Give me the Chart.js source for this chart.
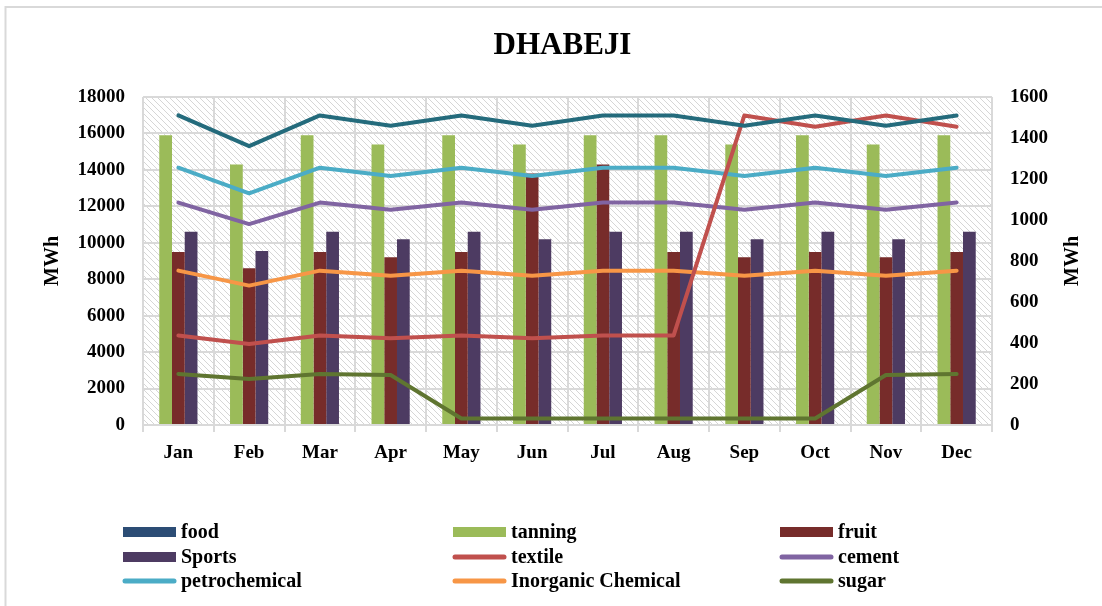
<!DOCTYPE html>
<html>
<head>
<meta charset="utf-8">
<title>DHABEJI</title>
<script src="https://cdn.jsdelivr.net/npm/chart.js@4"></script>
<style>
  body { margin: 0; background: #fff; }
  #wrap { width: 1102px; height: 606px; position: relative; }
</style>
</head>
<body>
<div id="wrap"><canvas id="dhabejiChart"></canvas></div>
<script>
// monthly consumption, MWh
const months = ['Jan', 'Feb', 'Mar', 'Apr', 'May', 'Jun', 'Jul', 'Aug', 'Sep', 'Oct', 'Nov', 'Dec'];

// bars, left axis
const tanning = [15900, 14300, 15900, 15400, 15900, 15400, 15900, 15900, 15400, 15900, 15400, 15900];
const fruit = [9500, 8600, 9500, 9200, 9500, 13800, 14300, 9500, 9200, 9500, 9200, 9500];
const sports = [10600, 9550, 10600, 10200, 10600, 10200, 10600, 10600, 10200, 10600, 10200, 10600];

// lines, right axis
const food = [1510, 1360, 1510, 1460, 1510, 1460, 1510, 1510, 1460, 1510, 1460, 1510];
const textile = [437, 395, 437, 423, 437, 423, 437, 437, 1510, 1455, 1510, 1455];
const cement = [1085, 980, 1085, 1050, 1085, 1050, 1085, 1085, 1050, 1085, 1050, 1085];
const petrochemical = [1255, 1130, 1255, 1215, 1255, 1215, 1255, 1255, 1215, 1255, 1215, 1255];
const inorganic = [753, 680, 753, 728, 753, 728, 753, 753, 728, 753, 728, 753];
const sugar = [249, 224, 249, 244, 32, 32, 32, 32, 32, 32, 244, 249];

const leftTicks = { min: 0, max: 18000, step: 2000 };
const rightTicks = { min: 0, max: 1600, step: 200 };

const serif = 'Liberation Serif, Times New Roman, serif';
const tickFont = { family: serif, size: 19, weight: 'bold' };

function barSet(label, data, color) {
    return { type: 'bar', label: label, data: data, backgroundColor: color, yAxisID: 'y', order: 2 };
}

function lineSet(label, data, color) {
    return {
        type: 'line', label: label, data: data, borderColor: color, backgroundColor: color,
        borderWidth: 4, pointRadius: 0, tension: 0, borderCapStyle: 'round', borderJoinStyle: 'round',
        yAxisID: 'y1', order: 1
    };
}

const datasets = [
    barSet('tanning', tanning, '#9BBB59'),
    barSet('fruit', fruit, '#772C2A'),
    barSet('Sports', sports, '#4D3B62'),
    lineSet('food', food, '#246B7C'),
    lineSet('textile', textile, '#C0504D'),
    lineSet('cement', cement, '#8064A2'),
    lineSet('petrochemical', petrochemical, '#4BACC6'),
    lineSet('Inorganic Chemical', inorganic, '#F79646'),
    lineSet('sugar', sugar, '#5F7530')
];

// legend grid, row by row
const legendOrder = ['food', 'tanning', 'fruit', 'Sports', 'textile', 'cement', 'petrochemical', 'Inorganic Chemical', 'sugar'];
const legendSwatch = { food: '#2C4D75' };

function makeHatch(ctx) {
    const c = document.createElement('canvas');
    c.width = 6;
    c.height = 6;
    const g = c.getContext('2d');
    g.fillStyle = '#ffffff';
    g.fillRect(0, 0, 6, 6);
    g.strokeStyle = '#d6d6d6';
    g.lineWidth = 1;
    g.beginPath();
    g.moveTo(-1, -1); g.lineTo(7, 7);
    g.moveTo(-1, 5); g.lineTo(1, 7);
    g.moveTo(5, -1); g.lineTo(7, 1);
    g.stroke();
    return ctx.createPattern(c, 'repeat');
}

const decorations = {
    id: 'decorations',
    beforeDraw(chart) {
        const { ctx, chartArea: a } = chart;
        ctx.save();
        ctx.fillStyle = makeHatch(ctx);
        ctx.fillRect(a.left, a.top, a.right - a.left, a.bottom - a.top);
        ctx.strokeStyle = '#d9d9d9';
        ctx.lineWidth = 2;
        ctx.beginPath();
        ctx.moveTo(5.5, 606);
        ctx.lineTo(5.5, 7);
        ctx.lineTo(1102, 7);
        ctx.stroke();
        ctx.restore();
    },
    afterDraw(chart) {
        const { ctx, chartArea: a } = chart;
        ctx.save();
        ctx.fillStyle = '#000';
        ctx.font = 'bold 20px ' + serif;

        // right axis title, reads bottom to top like the left one
        ctx.save();
        ctx.translate(1073, (a.top + a.bottom) / 2);
        ctx.rotate(-Math.PI / 2);
        ctx.textAlign = 'center';
        ctx.textBaseline = 'middle';
        ctx.fillText('MWh', 0, 0);
        ctx.restore();

        const cols = [123, 453, 780];
        const rows = [532, 557, 581];
        legendOrder.forEach(function (label, i) {
            const ds = chart.data.datasets.find(d => d.label === label);
            const x = cols[i % 3];
            const y = rows[Math.floor(i / 3)];
            const isBar = ds.type === 'bar' || legendSwatch[label];
            if (isBar) {
                ctx.fillStyle = legendSwatch[label] || ds.backgroundColor;
                ctx.fillRect(x, y - 5, 53, 10);
            } else {
                ctx.strokeStyle = ds.borderColor;
                ctx.lineWidth = 5;
                ctx.lineCap = 'round';
                ctx.beginPath();
                ctx.moveTo(x + 2, y);
                ctx.lineTo(x + 51, y);
                ctx.stroke();
            }
            ctx.fillStyle = '#000';
            ctx.textAlign = 'left';
            ctx.textBaseline = 'middle';
            ctx.fillText(label, x + 58, y + 1);
        });
        ctx.restore();
    }
};

const plainNumber = function (value) { return String(value); };

const config = {
    data: { labels: months, datasets: datasets },
    options: {
        responsive: true,
        maintainAspectRatio: false,
        animation: false,
        layout: { padding: { top: 27, left: 41, right: 18, bottom: 0 } },
        datasets: {
            bar: { barPercentage: 1, categoryPercentage: 0.54 }
        },
        plugins: {
            legend: { display: false },
            tooltip: { enabled: false },
            title: {
                display: true,
                text: 'DHABEJI',
                color: '#000',
                font: { family: serif, size: 31, weight: 'bold' },
                padding: { top: 0, bottom: 32.8 }
            }
        },
        scales: {
            x: {
                offset: true,
                grid: { offset: true, color: '#d9d9d9', lineWidth: 2, tickLength: 7, drawTicks: true },
                border: { color: '#d9d9d9', width: 2 },
                ticks: { color: '#000', font: tickFont, padding: 10 },
                afterFit: function (scale) { scale.height = 181; }
            },
            y: {
                position: 'left',
                min: leftTicks.min,
                max: leftTicks.max,
                ticks: { stepSize: leftTicks.step, color: '#000', padding: 18, font: tickFont, callback: plainNumber },
                grid: { color: '#d9d9d9', lineWidth: 2, drawTicks: false },
                border: { display: false },
                title: { display: true, text: 'MWh', color: '#000', padding: 0, font: { family: serif, size: 20, weight: 'bold' } },
                afterFit: function (scale) { scale.width = 102; }
            },
            y1: {
                position: 'right',
                min: rightTicks.min,
                max: rightTicks.max,
                ticks: { stepSize: rightTicks.step, color: '#000', padding: 18, font: tickFont, callback: plainNumber },
                grid: { display: false, drawTicks: false },
                border: { display: false },
                afterFit: function (scale) { scale.width = 92; }
            }
        }
    },
    plugins: [decorations]
};

const chart = new Chart(document.getElementById('dhabejiChart'), config);
</script>
</body>
</html>
